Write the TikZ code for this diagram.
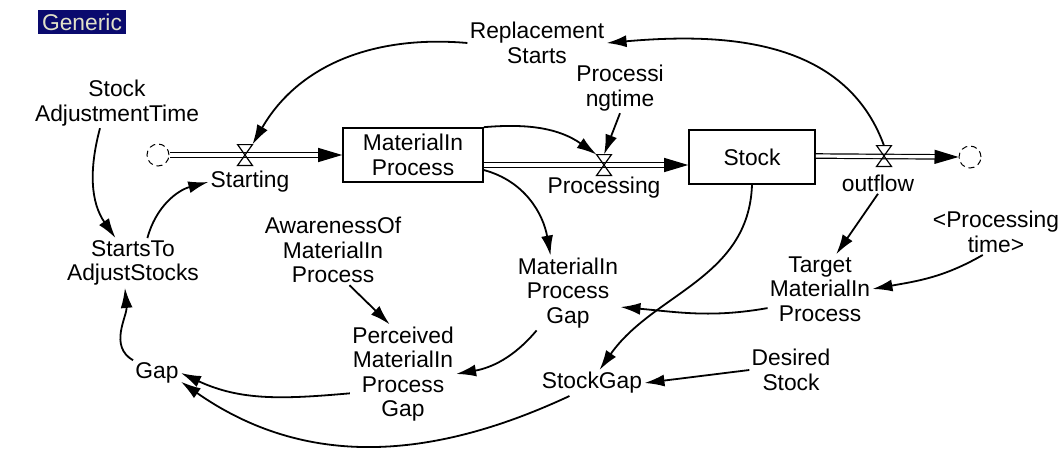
\documentclass[tikz,border=0pt]{standalone}
\usepackage{fontspec}
\setmainfont{Liberation Sans}
\usetikzlibrary{arrows.meta,calc,positioning}
\definecolor{navy}{RGB}{10,10,110}
\definecolor{cream}{RGB}{225,225,200}
\newcommand{\valve}[1]{\draw[line width=0.6pt] (#1.north west) -- (#1.north east) -- (#1.south west) -- (#1.south east) -- cycle;}

\begin{document}
\begin{tikzpicture}[x=0.5pt, y=-0.5pt,
    every node/.style={align=center, inner sep=1pt, font=\fontsize{11.4}{12.2}\selectfont},
    level/.style={draw, line width=0.8pt, minimum height=27pt},
    vv/.style={minimum width=7pt, minimum height=10pt, inner sep=0pt},
    cloud/.style={circle, draw, densely dashed, line width=0.5pt, minimum size=11pt, inner sep=0pt},
    pipe/.style={double, double distance=1.6pt, line width=0.6pt, -{Triangle[length=12pt,width=7pt]}},
    link/.style={line width=0.9pt, -{Latex[length=10pt,width=6pt]}} ]
    \useasboundingbox (0,0) rectangle (1059,449);
    \node[fill=navy, text=cream, inner sep=2pt] (generic) at (82,22) {Generic};

    % stocks and flows
    \node[cloud] (cloudL) at (158,155) {};
    \node[level, minimum width=70pt] (mip) at (413,155) {MaterialIn\\Process};
    \node[level, minimum width=63pt] (stock) at (752,157) {Stock};
    \node[cloud] (cloudR) at (970,157) {};
    \node[vv] (vstart) at (245,155) {};
    \node[vv] (vproc) at (604,165) {};
    \node[vv] (vout) at (884,156) {};
    \draw[pipe] (cloudL.east) -- (mip.west |- vstart);
    \draw[pipe] (mip.east |- vproc) -- (stock.west |- vproc);
    \draw[pipe] (stock.east |- vout) -- (cloudR.west);
    \valve{vstart}
    \valve{vproc}
    \valve{vout}
    \node (lstart) at (250,182) {Starting};
    \node (lproc) at (604,188) {Processing};
    \node (lout) at (878,183) {outflow};

    % auxiliaries
    \node (sat) at (117,103) {Stock\\AdjustmentTime};
    \node (rs) at (537,43) {Replacement\\Starts};
    \node (pt) at (620,88) {Processi\\ngtime};
    \node (stas) at (133,263) {StartsTo\\AdjustStocks};
    \node (aw) at (333,250) {AwarenessOf\\MaterialIn\\Process};
    \node (mipg) at (568,293) {MaterialIn\\Process\\Gap};
    \node (tmip) at (820,289) {Target\\MaterialIn\\Process};
    \node (ptime) at (996,232) {<Processing\\time>};
    \node (pmipg) at (403,374) {Perceived\\MaterialIn\\Process\\Gap};
    \node (gap) at (157,373) {Gap};
    \node (sg) at (592,383) {StockGap};
    \node (ds) at (791,370) {Desired\\Stock};

    % links
    \draw[link] (vout.north) to[out=110,in=5] (rs.east);
    \draw[link] (rs.west) to[out=175,in=60] (vstart.north east);
    \draw[link] (mip.north east) to[out=5,in=145] (vproc.north west);
    \draw[link] (pt.south) -- (vproc.north);
    \draw[link] (stock.south) to[out=-92,in=55] (sg.60);
    \draw[link] (mip.-12) to[out=-15,in=100] (mipg.115);
    \draw[link] (sat.236) to[out=-105,in=125] (stas.125);
    \draw[link] (stas.60) to[out=75,in=195] (lstart.west);
    \draw[link] (gap.north west) to[out=150,in=-85] (stas.-108);
    \draw[link] (aw.-65) -- (pmipg.105);
    \draw[link] (mipg.-130) to[out=-130,in=10] (pmipg.east);
    \draw[link] (pmipg.-160) to[out=185,in=-25] (gap.east);
    \draw[link] (sg.-150) to[out=-155,in=-35] (gap.-20);
    \draw[link] (ds.west) -- (sg.east);
    \draw[link] (tmip.-160) to[out=190,in=-5] (mipg.-15);
    \draw[link] (lout.south) -- (tmip.65);
    \draw[link] (ptime.-120) to[out=-150,in=10] (tmip.east);
\end{tikzpicture}
\end{document}
